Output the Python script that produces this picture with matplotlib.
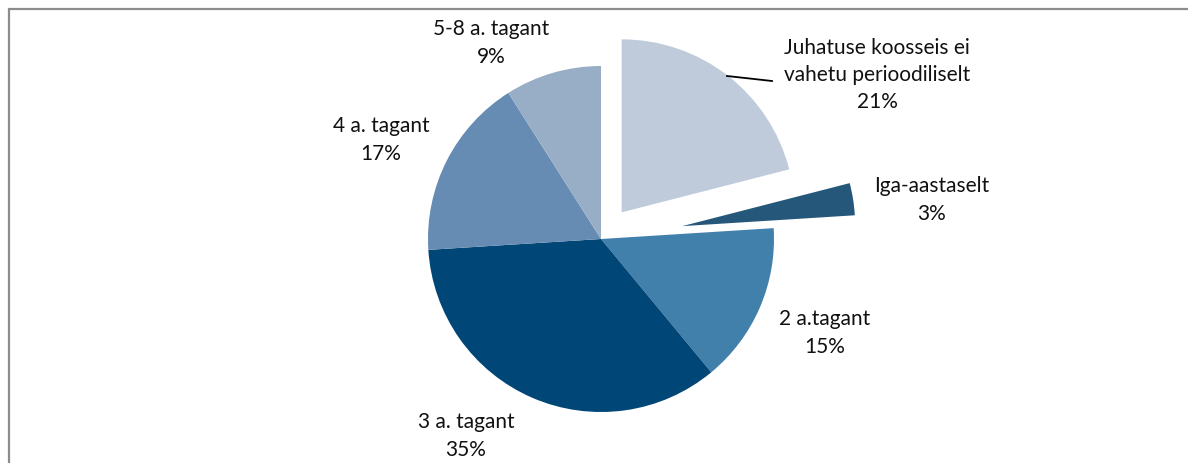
import matplotlib.pyplot as plt
from matplotlib.patches import Rectangle

labels = [
    "Juhatuse koosseis ei\nvahetu perioodiliselt",
    "Iga-aastaselt",
    "2 a.tagant",
    "3 a. tagant",
    "4 a. tagant",
    "5-8 a. tagant",
]
shares = [21, 3, 15, 35, 17, 9]

colors = ["#BFCBDB", "#245779", "#4280AC", "#004677", "#668CB3", "#98AEC6"]
radius = 173
explode_frac = [0.195, 0.475, 0, 0, 0, 0]
# label centres in pixel coords (x, y from top)
label_pos = [(877, 75), (932, 200), (825, 333), (466, 436), (381, 140), (491, 43)]

W, H = 1188, 464
fig = plt.figure(figsize=(W / 100, H / 100), dpi=100)
ax = fig.add_axes([0, 0, 1, 1])

# pie explode is in data units, so scale by the radius
ax.pie(
    shares,
    colors=colors,
    explode=[e * radius for e in explode_frac],
    startangle=90,
    counterclock=False,
    center=(601, H - 240),
    radius=radius,
    frame=True,
    wedgeprops={"linewidth": 0},
)
ax.set_xlim(0, W)
ax.set_ylim(0, H)
ax.set_aspect("equal")
ax.axis("off")

for lab, val, (x, y) in zip(labels, shares, label_pos):
    ax.text(x, H - y, f"{lab}\n{val}%", ha="center", va="center",
            fontsize=15, family="Lato", color="#111111", linespacing=1.45)

# leader line for the first label
ax.plot([727, 772], [H - 77, H - 82], color="black", lw=1.3)

# chart frame (cut off at right/bottom)
fig.patches.append(Rectangle((8.5 / W, -0.1), 1.2, (H - 9.5) / H + 0.1,
                             transform=fig.transFigure, fill=False,
                             edgecolor="#8C8C8C", lw=1.6))

fig.savefig("out.png", dpi=100)
